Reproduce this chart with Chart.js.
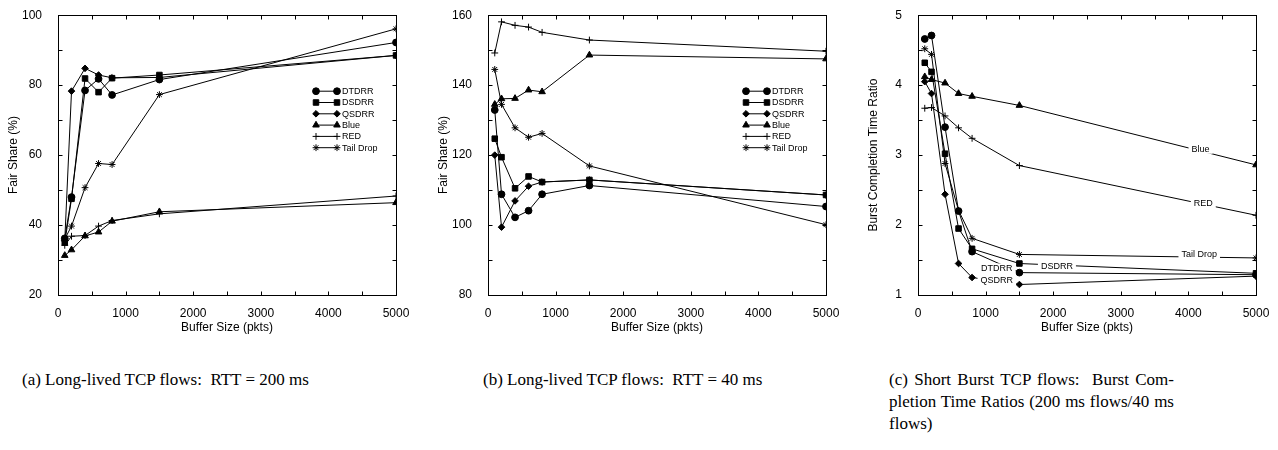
<!DOCTYPE html>
<html>
<head>
<meta charset="utf-8">
<script src="https://cdn.jsdelivr.net/npm/chart.js@4.4.1/dist/chart.umd.min.js"></script>
<style>
  body { margin: 0; background: #fff; width: 1278px; height: 450px; position: relative; overflow: hidden; }
  canvas { position: absolute; top: 0; }
  .cap { position: absolute; font-family: 'Liberation Serif', 'Times New Roman', serif; font-size: 17px; color: #000; line-height: 22px; white-space: nowrap; }
  .just { text-align: justify; text-align-last: justify; width: 285px; }
</style>
</head>
<body>
<canvas id="chart-a" width="415" height="335" style="left:0px"></canvas>
<canvas id="chart-b" width="415" height="335" style="left:430px"></canvas>
<canvas id="chart-c" width="415" height="335" style="left:860px"></canvas>

<div class="cap" style="left:22px; top:369px">(a) Long-lived TCP flows:&nbsp; RTT = 200 ms</div>
<div class="cap" style="left:483px; top:369px">(b) Long-lived TCP flows:&nbsp; RTT = 40 ms</div>
<div class="cap" style="left:889px; top:369px">
  <div class="just">(c) Short Burst TCP flows:&nbsp; Burst Com-</div>
  <div class="just">pletion Time Ratios (200 ms flows/40 ms</div>
  <div>flows)</div>
</div>

<script>
const bufferSizes = [100, 200, 400, 600, 800, 1500, 5000];
const seriesNames = ['DTDRR', 'DSDRR', 'QSDRR', 'Blue', 'RED', 'Tail Drop'];
const markerStyles = ['circle', 'rect', 'rectRot', 'triangle', 'cross', 'star'];
const markerSizes = [3.4, 3.9, 3.3, 3.8, 3.4, 3.4];

// (a) RTT = 200 ms
const aDTDRR = [36.2, 48.0, 78.5, 81.8, 77.2, 81.6, 92.2];
const aDSDRR = [35.0, 47.5, 81.9, 78.0, 82.0, 82.9, 88.5];
const aQSDRR = [35.5, 78.3, 84.8, 82.9, 82.1, 82.2, 88.5];
const aBlue = [31.3, 32.9, 36.9, 38.0, 41.1, 43.8, 46.4];
const aRED = [34.2, 36.8, 37.0, 39.7, 41.3, 43.2, 48.3];
const aTail = [36.0, 39.7, 50.7, 57.6, 57.3, 77.3, 96.1];

// (b) RTT = 40 ms
const bDTDRR = [132.9, 108.8, 102.2, 104.1, 108.8, 111.3, 105.3];
const bDSDRR = [124.7, 119.4, 110.5, 113.9, 112.3, 112.9, 108.6];
const bQSDRR = [120.0, 99.4, 106.9, 111.1, 112.3, 112.9, 108.6];
const bBlue = [134.5, 136.1, 136.2, 138.6, 138.1, 148.6, 147.5];
const bRED = [149.2, 158.1, 157.1, 156.6, 155.1, 152.9, 149.7];
const bTail = [144.5, 134.5, 127.8, 125.1, 126.2, 116.9, 100.1];

// (c) burst completion time ratios
const cDTDRR = [4.66, 4.71, 3.40, 2.20, 1.62, 1.32, 1.29];
const cDSDRR = [4.32, 4.19, 3.02, 1.95, 1.66, 1.45, 1.31];
const cQSDRR = [4.05, 3.88, 2.44, 1.45, 1.25, 1.15, 1.27];
const cBlue = [4.12, 4.08, 4.03, 3.88, 3.84, 3.71, 2.86];
const cRED = [3.67, 3.68, 3.56, 3.39, 3.24, 2.85, 2.14];
const cTail = [4.52, 4.44, 2.88, 2.21, 1.81, 1.58, 1.53];

// inline labels on chart (c), in data coordinates
const cLabelText = ['Blue', 'RED', 'Tail Drop', 'DSDRR', 'DTDRR', 'QSDRR'];
const cLabelX = [4180, 4220, 4160, 2055, 1165, 1165];
const cLabelY = [3.09, 2.31, 1.58, 1.42, 1.38, 1.21];

const SANS = "'Liberation Sans', Arial, Helvetica, sans-serif";
const TICK = 4;

function drawMarker(ctx, style, r, x, y) {
    if (Chart.helpers && Chart.helpers.drawPoint) {
        Chart.helpers.drawPoint(ctx, { pointStyle: style, radius: r, rotation: 0, borderWidth: 1 }, x, y);
    }
}

const paperPlugin = {
    id: 'paper',
    afterDatasetsDraw(chart, args, opts) {
        const ctx = chart.ctx;
        const a = chart.chartArea;
        const xs = chart.scales.x;
        const ys = chart.scales.y;
        ctx.save();
        ctx.strokeStyle = '#000';
        ctx.fillStyle = '#000';
        ctx.lineWidth = 1;

        // frame + inward ticks on all four sides
        const L = Math.round(a.left) + 0.5, R = Math.round(a.right) + 0.5;
        const T = Math.round(a.top) + 0.5, B = Math.round(a.bottom) + 0.5;
        ctx.strokeRect(L, T, R - L, B - T);
        ctx.beginPath();
        for (let v = xs.min; v <= xs.max + 1e-9; v += opts.xMinor) {
            const px = Math.round(xs.getPixelForValue(v)) + 0.5;
            ctx.moveTo(px, B); ctx.lineTo(px, B - TICK);
            ctx.moveTo(px, T); ctx.lineTo(px, T + TICK);
        }
        for (let v = ys.min; v <= ys.max + 1e-9; v += opts.yMinor) {
            const py = Math.round(ys.getPixelForValue(v)) + 0.5;
            ctx.moveTo(L, py); ctx.lineTo(L + TICK, py);
            ctx.moveTo(R, py); ctx.lineTo(R - TICK, py);
        }
        ctx.stroke();

        // gnuplot style key inside the plot
        if (opts.legend) {
            ctx.font = '9px ' + SANS;
            ctx.textBaseline = 'middle';
            ctx.textAlign = 'left';
            chart.data.datasets.forEach((ds, i) => {
                const y = a.top + 76 + i * 11.3;
                const x1 = a.right - 80, x2 = a.right - 59;
                ctx.beginPath();
                ctx.moveTo(x1, y); ctx.lineTo(x2, y);
                ctx.stroke();
                drawMarker(ctx, ds.pointStyle, ds.pointRadius, x1, y);
                drawMarker(ctx, ds.pointStyle, ds.pointRadius, x2, y);
                ctx.fillText(ds.label, a.right - 54, y + 0.5);
            });
        }

        // inline labels with a white gap in the line
        if (opts.labels) {
            ctx.font = '9px ' + SANS;
            ctx.textBaseline = 'middle';
            ctx.textAlign = 'center';
            opts.labels.text.forEach((t, i) => {
                const px = xs.getPixelForValue(opts.labels.x[i]);
                const py = ys.getPixelForValue(opts.labels.y[i]);
                const w = ctx.measureText(t).width;
                ctx.fillStyle = '#fff';
                ctx.fillRect(px - w / 2 - 3, py - 5, w + 6, 10);
                ctx.fillStyle = '#000';
                ctx.fillText(t, px, py + 0.5);
            });
        }
        ctx.restore();
    }
};

function makeChart(id, values, yMin, yMax, yStep, yMinor, yTitle, extra) {
    const datasets = values.map((vals, i) => ({
        label: seriesNames[i],
        data: bufferSizes.map((b, j) => ({ x: b, y: vals[j] })),
        borderColor: '#000',
        backgroundColor: '#000',
        borderWidth: 1,
        tension: 0,
        pointStyle: markerStyles[i],
        pointRadius: markerSizes[i],
        pointBorderWidth: 1,
        pointBackgroundColor: '#000',
        pointBorderColor: '#000',
    }));

    return new Chart(document.getElementById(id), {
        type: 'line',
        data: { datasets },
        plugins: [paperPlugin],
        options: {
            responsive: false,
            animation: false,
            devicePixelRatio: 1,
            layout: { padding: { top: 14, right: 19, left: 0, bottom: 0 } },
            plugins: {
                legend: { display: false },
                tooltip: { enabled: false },
                paper: Object.assign({ xMinor: 500, yMinor: yMinor }, extra),
            },
            scales: {
                x: {
                    type: 'linear',
                    min: 0,
                    max: 5000,
                    afterFit: (axis) => { axis.height = 40; },
                    ticks: {
                        stepSize: 1000,
                        color: '#000',
                        font: { size: 12, family: SANS },
                        padding: 3,
                        maxRotation: 0,
                        callback: v => String(v),
                    },
                    grid: { display: false },
                    border: { display: false },
                    title: {
                        display: true,
                        text: 'Buffer Size (pkts)',
                        color: '#000',
                        font: { size: 12, family: SANS },
                        padding: { top: 6, bottom: 0 },
                    },
                },
                y: {
                    type: 'linear',
                    min: yMin,
                    max: yMax,
                    afterFit: (axis) => { axis.width = 58; },
                    ticks: {
                        stepSize: yStep,
                        color: '#000',
                        font: { size: 12, family: SANS },
                        padding: 8,
                        callback: v => String(v),
                    },
                    grid: { display: false },
                    border: { display: false },
                    title: {
                        display: true,
                        text: yTitle,
                        color: '#000',
                        font: { size: 12, family: SANS },
                        padding: { top: 6, bottom: 0 },
                    },
                },
            },
        },
    });
}

makeChart('chart-a', [aDTDRR, aDSDRR, aQSDRR, aBlue, aRED, aTail], 20, 100, 20, 10,
    'Fair Share (%)', { legend: true });
makeChart('chart-b', [bDTDRR, bDSDRR, bQSDRR, bBlue, bRED, bTail], 80, 160, 20, 10,
    'Fair Share (%)', { legend: true });
makeChart('chart-c', [cDTDRR, cDSDRR, cQSDRR, cBlue, cRED, cTail], 1, 5, 1, 0.5,
    'Burst Completion Time Ratio', { labels: { text: cLabelText, x: cLabelX, y: cLabelY } });
</script>
</body>
</html>
